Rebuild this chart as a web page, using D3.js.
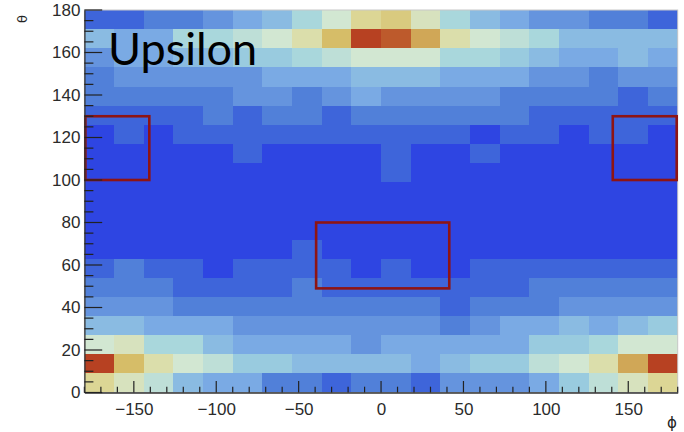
<!DOCTYPE html>
<html>
<head>
<meta charset="utf-8">
<script src="https://cdn.jsdelivr.net/npm/d3@7"></script>
<style>
  body { margin: 0; background: #fff; }
  svg { display: block; }
</style>
</head>
<body>
<svg id="chart" width="684" height="432"></svg>
<script>
// Binning: 20 bins in phi (18 deg) and 20 bins in theta (9 deg)
const phiEdges = d3.range(21).map(i => -180 + 18 * i);
const thetaEdges = d3.range(21).map(j => 180 - 9 * j);   // top edge of each row, top row first

// Bin contents, one row per theta bin, from theta 171-180 down to 0-9
const counts = [
  [1,1,2,2,3,4,5,7,9,12,13,10,7,5,4,3,3,2,2,1],
  [5,4,4,7,7,8,9,11,14,19,18,15,11,9,8,7,5,5,5,5],
  [3,4,4,5,5,6,6,7,8,9,9,9,7,7,6,5,4,4,5,4],
  [2,3,3,3,3,3,4,4,4,5,5,5,4,4,4,3,3,2,3,3],
  [2,2,2,2,2,3,3,2,3,4,3,3,3,3,2,2,2,2,1,2],
  [1,1,1,1,2,1,2,2,1,2,2,2,2,2,2,1,1,1,1,1],
  [0,1,0,1,1,1,1,1,1,1,1,1,1,0,1,1,0,1,1,0],
  [0,0,0,0,0,1,0,0,0,0,1,0,0,1,0,0,0,0,0,0],
  [0,0,0,0,0,0,0,0,0,0,1,0,0,0,0,0,0,0,0,0],
  [0,0,0,0,0,0,0,0,0,0,0,0,0,0,0,0,0,0,0,0],
  [0,0,0,0,0,0,0,0,0,0,0,0,0,0,0,0,0,0,0,0],
  [0,0,0,0,0,0,0,0,0,0,0,0,0,0,0,0,0,0,0,0],
  [0,0,0,0,0,0,0,1,0,0,0,0,0,0,0,0,0,0,0,0],
  [1,2,1,1,0,1,1,1,1,0,1,0,0,1,1,1,1,1,1,1],
  [2,2,2,1,1,1,1,2,1,1,1,1,1,1,1,2,2,2,2,2],
  [3,3,3,2,2,2,2,2,2,2,2,2,1,2,2,2,3,3,3,3],
  [5,5,4,4,4,3,3,3,3,3,3,3,2,3,4,4,5,4,5,6],
  [9,10,7,7,5,4,4,4,4,3,4,4,4,4,4,6,6,7,9,9],
  [19,14,11,9,8,6,6,5,5,5,5,4,5,6,6,8,9,11,15,19],
  [12,10,8,5,4,4,2,2,1,2,2,1,3,3,3,4,6,8,10,12]
];

// Axis tick labels
const phiTicks = [-150, -100, -50, 0, 50, 100, 150];
const thetaTicks = [0, 20, 40, 60, 80, 100, 120, 140, 160, 180];

// Highlighted regions (phi range, theta range)
const boxPhi = [[-180, -140], [140, 180], [-40, 42]];
const boxTheta = [[100, 130], [100, 130], [49, 80]];

// Light-temperature colour palette stops
const paletteStops = [0, 0.125, 0.25, 0.375, 0.5, 0.625, 0.75, 0.875, 1];
const paletteColors = ["rgb(31,40,234)", "rgb(71,117,214)", "rgb(123,171,228)", "rgb(160,211,222)",
  "rgb(210,231,210)", "rgb(222,220,160)", "rgb(214,190,105)", "rgb(199,132,60)", "rgb(183,65,34)"];

const nContours = 20, nColors = 255, zMax = 20;
const gradient = d3.scaleLinear().domain(paletteStops).range(paletteColors)
  .interpolate(d3.interpolateRgb).clamp(true);
function cellColor(z) {
  const level = Math.min(nContours - 1, Math.floor(z * nContours / zMax + 0.01));
  const idx = Math.floor((level + 0.99) * nColors / nContours);
  return gradient(idx / (nColors - 1));
}

const svg = d3.select("#chart");
const x = d3.scaleLinear().domain([-180, 180]).range([84.4, 677.7]);
const y = d3.scaleLinear().domain([0, 180]).range([392.5, 10]);

// Cells
const cells = [];
counts.forEach((row, j) => row.forEach((v, i) => cells.push({ i, j, v })));
svg.append("g").attr("shape-rendering", "crispEdges")
  .selectAll("rect").data(cells).join("rect")
  .attr("x", d => x(phiEdges[d.i]))
  .attr("y", d => y(thetaEdges[d.j]))
  .attr("width", d => x(phiEdges[d.i + 1]) - x(phiEdges[d.i]) + 0.5)
  .attr("height", d => y(thetaEdges[d.j] - 9) - y(thetaEdges[d.j]) + 0.5)
  .attr("fill", d => cellColor(d.v));

// Frame
svg.append("rect")
  .attr("x", x(-180)).attr("y", y(180))
  .attr("width", x(180) - x(-180)).attr("height", y(0) - y(180))
  .attr("fill", "none").attr("stroke", "#c8c8c8").attr("stroke-width", 1);

// Highlight boxes
svg.append("g").selectAll("rect").data(boxPhi.map((p, k) => ({ p, t: boxTheta[k] }))).join("rect")
  .attr("x", d => x(d.p[0]) + 1)
  .attr("y", d => y(d.t[1]))
  .attr("width", d => x(d.p[1]) - x(d.p[0]) - 2)
  .attr("height", d => y(d.t[0]) - y(d.t[1]))
  .attr("fill", "none").attr("stroke", "#8e1414").attr("stroke-width", 2.6);

// X axis (ticks point up into the plot)
const xMajorLen = 11.5, xMinorLen = 5.8;
const xAxis = d3.axisBottom(x).tickValues(phiTicks).tickSize(0).tickPadding(10)
  .tickFormat(d => (d < 0 ? "\u2212" + Math.abs(d) : String(d)));
const gx = svg.append("g").attr("transform", `translate(0,${y(0)})`).call(xAxis);
gx.select(".domain").attr("stroke", "#333").attr("stroke-width", 1.3);
gx.selectAll("text").attr("font-family", "Liberation Sans, Arial, sans-serif")
  .attr("font-size", 17).attr("fill", "#2b2b2b");
const gxt = svg.append("g").attr("stroke", "#222").attr("stroke-width", 1.2);
d3.range(-180, 181, 10).forEach(v => {
  const len = v % 50 === 0 ? xMajorLen : xMinorLen;
  gxt.append("line").attr("x1", x(v)).attr("x2", x(v)).attr("y1", y(0)).attr("y2", y(0) - len);
});

// Y axis (ticks point right into the plot)
const yMajorLen = 17.8, yMinorLen = 9;
const yAxis = d3.axisLeft(y).tickValues(thetaTicks).tickSize(0).tickPadding(4);
const gy = svg.append("g").attr("transform", `translate(${x(-180)},0)`).call(yAxis);
gy.select(".domain").attr("stroke", "#333").attr("stroke-width", 1.3);
gy.selectAll("text").attr("font-family", "Liberation Sans, Arial, sans-serif")
  .attr("font-size", 17).attr("fill", "#2b2b2b");
const gyt = svg.append("g").attr("stroke", "#222").attr("stroke-width", 1.2);
d3.range(0, 181, 5).forEach(v => {
  const len = v % 20 === 0 ? yMajorLen : yMinorLen;
  gyt.append("line").attr("x1", x(-180)).attr("x2", x(-180) + len).attr("y1", y(v)).attr("y2", y(v));
});

// Axis titles
svg.append("text").attr("transform", "translate(27,15) rotate(-90)")
  .attr("text-anchor", "end").attr("font-family", "DejaVu Sans, sans-serif")
  .attr("font-size", 13).attr("fill", "#222").text("\u03b8");
svg.append("text").attr("x", 677).attr("y", 428).attr("text-anchor", "end")
  .attr("font-family", "DejaVu Sans, sans-serif")
  .attr("font-size", 15).attr("fill", "#222").text("\u03d5");

// Title label
svg.append("text").attr("x", 108).attr("y", 65)
  .attr("font-family", "Lato, 'Open Sans', sans-serif")
  .attr("font-size", 45).attr("fill", "#000").text("Upsilon");
</script>
</body>
</html>
